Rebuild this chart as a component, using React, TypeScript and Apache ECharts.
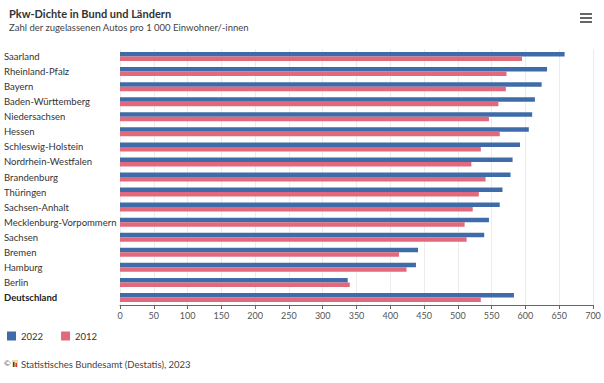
import React, { useEffect, useRef } from "react";
import * as echarts from "echarts";

const categories = [
  "Saarland",
  "Rheinland-Pfalz",
  "Bayern",
  "Baden-Württemberg",
  "Niedersachsen",
  "Hessen",
  "Schleswig-Holstein",
  "Nordrhein-Westfalen",
  "Brandenburg",
  "Thüringen",
  "Sachsen-Anhalt",
  "Mecklenburg-Vorpommern",
  "Sachsen",
  "Bremen",
  "Hamburg",
  "Berlin",
  "Deutschland",
];
const values2022 = [658, 632, 624, 614, 610, 605, 592, 581, 578, 566, 562, 546, 539, 441, 438, 337, 583];
const values2012 = [595, 572, 571, 560, 546, 562, 534, 520, 541, 531, 522, 510, 513, 413, 424, 340, 534];
const xTicks = { min: 0, max: 700, interval: 50 };

const FONT = "Lato, 'Noto Sans', sans-serif";

export default function App() {
  const ref = useRef<HTMLDivElement>(null);
  useEffect(() => {
    const chart = echarts.init(ref.current!, null, { renderer: "svg" });
    chart.setOption({
      animation: false,
      textStyle: { fontFamily: FONT },
      title: {
        left: 4,
        top: 3,
        text: "Pkw-Dichte in Bund und Ländern",
        subtext: "Zahl der zugelassenen Autos pro 1 000 Einwohner/-innen",
        itemGap: 3,
        textStyle: { fontSize: 11, fontWeight: "bold", color: "#333", fontFamily: FONT },
        subtextStyle: { fontSize: 9.5, color: "#444", fontFamily: FONT },
      },
      legend: {
        left: 2,
        top: 326,
        icon: "rect",
        itemWidth: 9,
        itemHeight: 9,
        itemGap: 18,
        textStyle: { fontSize: 9.5, color: "#333", fontFamily: FONT },
        data: ["2022", "2012"],
      },
      grid: { left: 120, right: 11, top: 49, bottom: 78, containLabel: false },
      xAxis: {
        type: "value",
        min: xTicks.min,
        max: xTicks.max,
        interval: xTicks.interval,
        axisLine: { show: true, lineStyle: { color: "#666" } },
        axisTick: { show: true, length: 4, lineStyle: { color: "#666" } },
        axisLabel: { fontSize: 9, color: "#555", margin: 6, fontFamily: FONT },
        splitLine: { show: true, lineStyle: { color: "#ececec" } },
      },
      yAxis: {
        type: "category",
        inverse: true,
        data: categories,
        axisLine: { show: false },
        axisTick: { show: false },
        axisLabel: {
          align: "left",
          margin: 116,
          fontSize: 9.5,
          color: "#333",
          fontFamily: FONT,
          formatter: (v: string) => (v === "Deutschland" ? "{b|" + v + "}" : v),
          rich: { b: { fontWeight: "bold", fontSize: 9.5, color: "#222", fontFamily: FONT } },
        },
      },
      series: [
        {
          name: "2022",
          type: "bar",
          data: values2022,
          barWidth: 4.5,
          barGap: "0%",
          itemStyle: { color: "#3f6ca9" },
        },
        {
          name: "2012",
          type: "bar",
          data: values2012,
          barWidth: 4.5,
          barGap: "0%",
          itemStyle: { color: "#e2697b" },
        },
      ],
      color: ["#3f6ca9", "#e2697b"],
      graphic: [
        { type: "rect", left: 580, top: 13, shape: { width: 12, height: 2 }, style: { fill: "#666" } },
        { type: "rect", left: 580, top: 17, shape: { width: 12, height: 2 }, style: { fill: "#666" } },
        { type: "rect", left: 580, top: 21, shape: { width: 12, height: 2 }, style: { fill: "#666" } },
        {
          type: "text",
          left: 4,
          top: 359,
          style: { text: "©", fontSize: 8, fill: "#555", fontFamily: FONT },
        },
        { type: "rect", left: 12, top: 360, shape: { width: 6, height: 7 }, style: { fill: "#f2d9a0" } },
        { type: "rect", left: 13, top: 362, shape: { width: 1.5, height: 5 }, style: { fill: "#444" } },
        { type: "rect", left: 15.5, top: 363, shape: { width: 1.5, height: 4 }, style: { fill: "#d33" } },
        {
          type: "text",
          left: 21,
          top: 359,
          style: { text: "Statistisches Bundesamt (Destatis), 2023", fontSize: 9.5, fill: "#444", fontFamily: FONT },
        },
      ],
    });
    return () => chart.dispose();
  }, []);
  return (
    <div
      ref={ref}
      style={{ position: "absolute", left: 0, top: 0, width: 604, height: 383 }}
    />
  );
}
